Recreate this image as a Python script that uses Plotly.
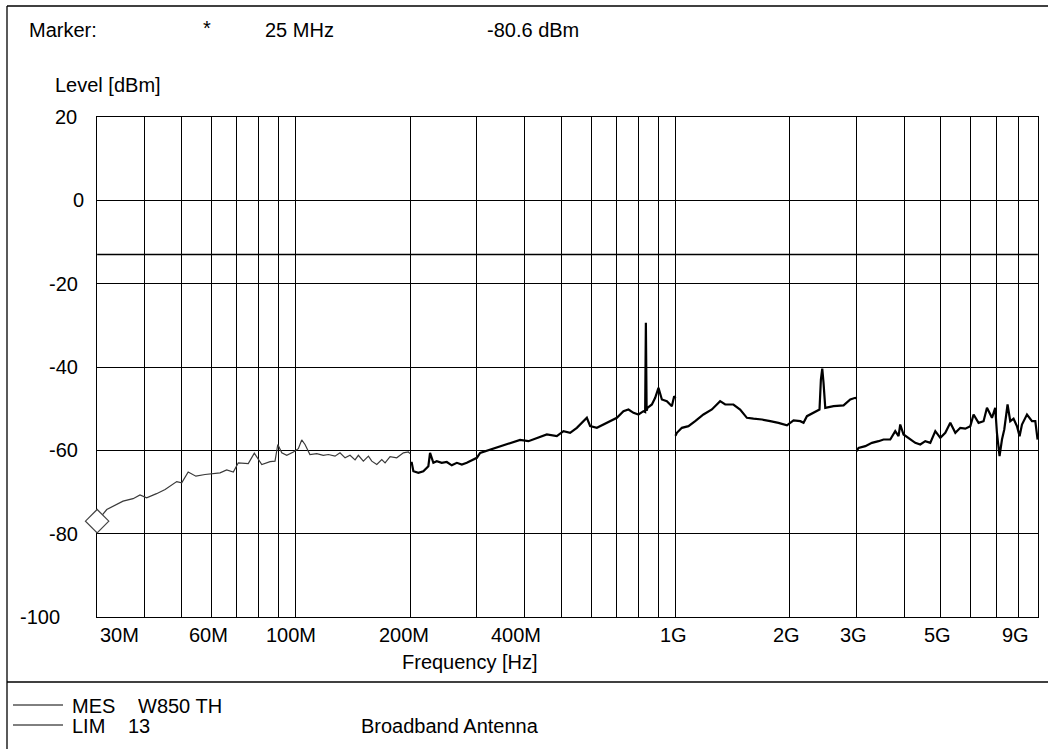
import numpy as np
import plotly.graph_objects as go

# ---------------- data ----------------
# MES trace, band 1: 30 MHz - 200 MHz
band1_mhz = [30.0, 31.8, 35.1, 37.3, 38.9, 40.5, 43.0, 45.3, 48.6, 50.1, 52.1, 54.6, 57.7,
             63.2, 65.8, 68.5, 70.6, 75.0, 77.8, 81.4, 85.6, 88.2, 89.7, 91.9, 94.7, 98.6,
             101.6, 103.7, 105.8, 109.0, 113.6, 118.2, 121.9, 126.9, 130.8, 134.9, 139.0,
             143.3, 146.2, 150.7, 155.4, 158.6, 163.5, 168.5, 171.9, 177.2, 184.5, 192.1,
             198.0, 200.0]
band1_dbm = [-77.0, -74.2, -72.2, -71.6, -70.7, -71.4, -70.4, -69.4, -67.5, -67.8, -65.2, -66.2, -65.8,
             -65.4, -64.7, -65.2, -63.0, -63.2, -60.7, -63.4, -62.7, -62.6, -58.6, -60.6, -61.2, -60.4,
             -59.6, -57.5, -58.6, -61.0, -60.8, -61.2, -61.0, -61.4, -60.6, -61.8, -61.2,
             -62.3, -61.2, -62.6, -61.4, -62.6, -63.4, -62.2, -63.0, -61.5, -61.8, -60.6,
             -60.4, -60.8]

# band 2: 200 MHz - 1 GHz
band2_mhz = [200.0, 202.1, 204.1, 210.4, 216.8, 223.5, 225.8, 230.4, 235.2, 242.4, 249.9, 257.6,
             265.6, 273.8, 282.2, 290.9, 299.9, 305.9, 325.0, 345.2, 366.8, 389.8, 410.0, 431.4,
             458.3, 487.0, 507.1, 527.9, 549.9, 584.3, 596.1, 620.9, 646.2, 672.9, 701.0, 729.5,
             752.0, 775.2, 799.0, 823.6, 832.0, 835.7, 839.5, 843.9, 866.7, 884.2, 902.1, 920.9,
             949.1, 978.3, 992.2, 1000.0]
band2_dbm = [-63.0, -63.0, -65.0, -65.4, -65.0, -63.8, -60.6, -63.0, -62.6, -63.0, -62.8, -63.6,
             -63.0, -63.4, -63.0, -62.3, -61.8, -60.6, -59.8, -59.1, -58.2, -57.5, -57.8, -57.0,
             -56.2, -56.6, -55.4, -55.8, -54.6, -52.2, -54.2, -54.6, -53.8, -53.0, -52.2, -50.6,
             -50.2, -51.0, -51.4, -50.6, -50.8, -29.4, -50.5, -49.8, -49.0, -47.4, -45.0, -47.8,
             -48.2, -49.4, -47.0, -47.5]

# band 3: 1 GHz - 3 GHz
band3_mhz = [1000.0, 1008.5, 1039.6, 1082, 1127, 1185, 1247, 1311, 1352, 1421, 1480, 1542, 1605,
             1689, 1776, 1867, 1966, 2046, 2131, 2174, 2219, 2309, 2395, 2415, 2435, 2454, 2480,
             2608, 2771, 2886, 2974, 3000]
band3_dbm = [-56.5, -55.8, -54.6, -54.2, -53.0, -51.4, -50.2, -48.2, -49.0, -49.0, -50.2, -52.2, -52.4,
             -52.6, -53.0, -53.4, -54.0, -52.8, -53.0, -53.4, -51.8, -51.0, -50.2, -43.0, -40.4, -43.8, -49.8,
             -49.4, -49.2, -47.8, -47.4, -47.6]

# band 4: 3 GHz - 9 GHz
band4_mhz = [3000, 3034, 3161, 3291, 3426, 3531, 3678, 3791, 3868, 3907, 3986, 4152, 4280, 4412,
             4548, 4688, 4833, 4982, 5135, 5293, 5457, 5623, 5797, 5976, 6095, 6283, 6476, 6611,
             6814, 6951, 7023, 7135, 7241, 7342, 7490, 7613, 7767, 7930, 8056, 8174, 8426, 8686,
             8862, 8986]
band4_dbm = [-60.2, -59.4, -59.0, -58.2, -57.8, -57.4, -57.4, -55.4, -56.6, -53.8, -56.2, -57.4, -58.2, -58.6,
             -57.8, -58.2, -55.4, -57.0, -55.8, -53.4, -55.8, -54.6, -54.8, -54.2, -51.4, -53.4, -53.0, -49.8,
             -52.2, -49.8, -55.8, -61.4, -57.4, -55.0, -49.0, -53.0, -52.4, -54.2, -56.6, -53.8, -51.4, -53.0,
             -53.0, -57.4]

# LIM line
lim_mhz = [30.0, 9000.0]
lim_dbm = [-13.0, -13.0]

# axis
x_range_mhz = [30.0, 9000.0]
y_range = [-100, 20]
x_grid_mhz = [40, 50, 60, 70, 80, 90, 100, 200, 300, 400, 500, 600, 700, 800, 900,
              1000, 2000, 3000, 4000, 5000, 6000, 7000, 8000]
y_grid = [-80, -60, -40, -20, 0]
x_tick_mhz = [30, 60, 100, 200, 400, 1000, 2000, 3000, 5000, 9000]
x_tick_text = ['30M', '60M', '100M', '200M', '400M', '1G', '2G', '3G', '5G', '9G']
y_tick_vals = [20, 0, -20, -40, -60, -80, -100]
y_tick_text = ['20', '0', '-20', '-40', '-60', '-80', '-100']

# header / footer texts
marker_label = 'Marker:'
marker_star = '*'
marker_freq = '25 MHz'
marker_level = '-80.6 dBm'

# ---------------- figure ----------------
W, H = 1048, 749
L, R, T, B = 97, 10, 117, 132
PW, PH = W - L - R, H - T - B


def px(x):
    return (x - L) / PW


def py(y):
    return (H - B - y) / PH


FONT = 'Liberation Sans, Arial, Helvetica, sans-serif'
FS = 20
EPS = 0.0004  # tiny range pad so the edge marker is not treated as out of range

hz = lambda a: [v * 1e6 for v in a]

fig = go.Figure()
fig.add_trace(go.Scatter(x=hz(lim_mhz), y=lim_dbm, mode='lines',
                         line=dict(color='black', width=1.3), hoverinfo='skip'))
fig.add_trace(go.Scatter(x=hz(band1_mhz), y=band1_dbm, mode='lines',
                         line=dict(color='#3a3a3a', width=1.2), hoverinfo='skip'))
for fm, lv in [(band2_mhz, band2_dbm), (band3_mhz, band3_dbm), (band4_mhz, band4_dbm)]:
    fig.add_trace(go.Scatter(x=hz(fm), y=lv, mode='lines',
                             line=dict(color='black', width=2.2), hoverinfo='skip'))
# marker diamond at start of trace
fig.add_trace(go.Scatter(x=[band1_mhz[0] * 1e6], y=[band1_dbm[0]], mode='markers',
                         marker=dict(symbol='diamond', size=18, color='white',
                                     line=dict(color='#444444', width=1.2)),
                         cliponaxis=False, hoverinfo='skip'))

fig.update_layout(
    width=W, height=H, margin=dict(l=L, r=R, t=T, b=B),
    paper_bgcolor='white', plot_bgcolor='white', showlegend=False,
    font=dict(family=FONT, size=FS, color='black'),
    xaxis=dict(type='log',
               range=[np.log10(x_range_mhz[0] * 1e6) - EPS, np.log10(x_range_mhz[1] * 1e6) + EPS],
               tickvals=hz(x_grid_mhz), showticklabels=False, ticks='', layer='below traces',
               showgrid=True, gridcolor='black', gridwidth=1.3,
               showline=True, mirror=True, linecolor='black', linewidth=1.3, zeroline=False),
    yaxis=dict(range=y_range, tickvals=y_grid, showticklabels=False, ticks='', layer='below traces',
               showgrid=True, gridcolor='black', gridwidth=1.3,
               showline=True, mirror=True, linecolor='black', linewidth=1.3, zeroline=False),
)

ann = []
# x tick labels (placement offsets as in the reference)
x_shift = {'30M': 22, '60M': -3, '100M': -5, '200M': -6, '400M': -8,
           '1G': -2, '2G': -3, '3G': -3, '5G': -3, '9G': -22}
for f, t in zip(x_tick_mhz, x_tick_text):
    ann.append(dict(x=np.log10(f * 1e6), xref='x', y=py(635), yref='paper', text=t,
                    showarrow=False, xanchor='center', yanchor='middle', xshift=x_shift[t]))
# y tick labels
y_center = {'20': 66, '0': 78, '-20': 63, '-40': 63, '-60': 63, '-80': 63, '-100': 40}
for v, t in zip(y_tick_vals, y_tick_text):
    ann.append(dict(x=px(y_center[t]), xref='paper', y=v, yref='y', text=t,
                    showarrow=False, xanchor='center', yanchor='middle'))


def txt(x, y, t, anchor='left', h=None):
    a = dict(x=px(x), y=py(y), xref='paper', yref='paper', text=t,
             showarrow=False, xanchor=anchor, yanchor='middle')
    if h:
        a['height'] = h
    ann.append(a)


txt(27, 30, marker_label)
txt(207, 28, marker_star, 'center')
txt(263, 30, marker_freq)
txt(485, 30, marker_level)
txt(53, 85, 'Level [dBm]')
txt(470, 662, 'Frequency [Hz]', 'center')
txt(70, 705, 'MES', h=17)
txt(136, 705, 'W850 TH', h=17)
txt(70, 725, 'LIM', h=17)
txt(126, 725, '13', h=17)
txt(359, 725, 'Broadband Antenna', h=17)
fig.update_layout(annotations=ann)

shapes = []


def line(x0, y0, x1, y1, w=1.3):
    shapes.append(dict(type='line', xref='paper', yref='paper', x0=px(x0), y0=py(y0),
                       x1=px(x1), y1=py(y1), line=dict(color='black', width=w)))


line(7, 6, 1050, 6)        # frame top
line(7, 6, 7, 752)         # frame left
line(7, 682, 1050, 682)    # divider
line(13, 705, 63, 705, 1)  # legend MES
line(13, 725, 63, 725, 1)  # legend LIM
fig.update_layout(shapes=shapes)

# page without default body margin so the figure sits at the window origin
fig.write_html('out.html', config={'displayModeBar': False},
               post_script="document.body.style.margin='0';")
